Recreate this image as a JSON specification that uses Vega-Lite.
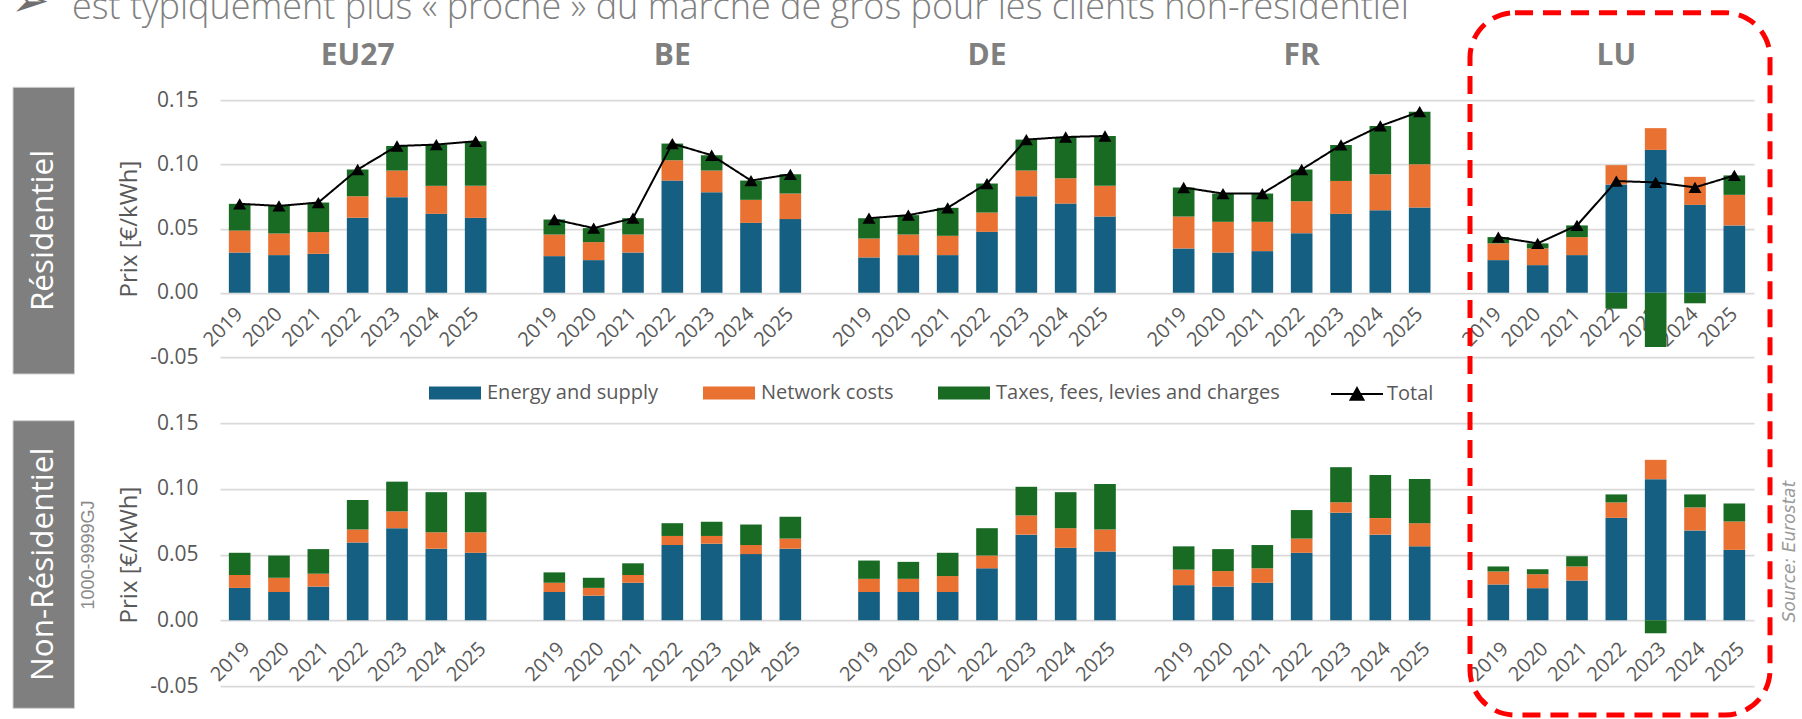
{
  "$schema": "https://vega.github.io/schema/vega-lite/v6.json",
  "autosize": {"type": "none"},
  "padding": {"left": 220, "top": 100, "right": 1582, "bottom": 619},
  "bounds": "flush",
  "spacing": 66,
  "background": "white",
  "config": {
    "view": {"stroke": null},
    "font": "Open Sans",
    "axis": {
      "labelFont": "Open Sans", "labelColor": "#595959", "labelFontSize": 20,
      "titleFont": "Open Sans", "titleColor": "#595959", "titleFontSize": 24, "titleFontWeight": "normal",
      "domain": false, "ticks": false, "gridColor": "#d9d9d9", "gridWidth": 1.75
    },
    "axisX": {"grid": false},
    "axisY": {"grid": true, "labelFontSize": 21}
  },
  "datasets": {
    "headers": [
      {"c": "EU27", "k": "EU27|2022"},
      {"c": "BE", "k": "BE|2022"},
      {"c": "DE", "k": "DE|2022"},
      {"c": "FR", "k": "FR|2022"},
      {"c": "LU", "k": "LU|2022"}
    ],
    "res": [
      {"c": "EU27", "k": "EU27|2019", "Energy and supply": 0.0313, "Network costs": 0.0171, "Taxes, fees, levies and charges": 0.0208, "Total": 0.0692},
      {"c": "EU27", "k": "EU27|2020", "Energy and supply": 0.0293, "Network costs": 0.0168, "Taxes, fees, levies and charges": 0.0215, "Total": 0.0676},
      {"c": "EU27", "k": "EU27|2021", "Energy and supply": 0.0303, "Network costs": 0.0169, "Taxes, fees, levies and charges": 0.0230, "Total": 0.0702},
      {"c": "EU27", "k": "EU27|2022", "Energy and supply": 0.0583, "Network costs": 0.0168, "Taxes, fees, levies and charges": 0.0208, "Total": 0.0959},
      {"c": "EU27", "k": "EU27|2023", "Energy and supply": 0.0744, "Network costs": 0.0207, "Taxes, fees, levies and charges": 0.0191, "Total": 0.1142},
      {"c": "EU27", "k": "EU27|2024", "Energy and supply": 0.0614, "Network costs": 0.0218, "Taxes, fees, levies and charges": 0.0321, "Total": 0.1153},
      {"c": "EU27", "k": "EU27|2025", "Energy and supply": 0.0583, "Network costs": 0.0249, "Taxes, fees, levies and charges": 0.0347, "Total": 0.1179},
      {"c": "BE", "k": "BE|2019", "Energy and supply": 0.0285, "Network costs": 0.0168, "Taxes, fees, levies and charges": 0.0117, "Total": 0.0570},
      {"c": "BE", "k": "BE|2020", "Energy and supply": 0.0254, "Network costs": 0.0140, "Taxes, fees, levies and charges": 0.0109, "Total": 0.0503},
      {"c": "BE", "k": "BE|2021", "Energy and supply": 0.0313, "Network costs": 0.0140, "Taxes, fees, levies and charges": 0.0127, "Total": 0.0580},
      {"c": "BE", "k": "BE|2022", "Energy and supply": 0.0873, "Network costs": 0.0158, "Taxes, fees, levies and charges": 0.0130, "Total": 0.1161},
      {"c": "BE", "k": "BE|2023", "Energy and supply": 0.0782, "Network costs": 0.0169, "Taxes, fees, levies and charges": 0.0119, "Total": 0.1070},
      {"c": "BE", "k": "BE|2024", "Energy and supply": 0.0544, "Network costs": 0.0179, "Taxes, fees, levies and charges": 0.0150, "Total": 0.0873},
      {"c": "BE", "k": "BE|2025", "Energy and supply": 0.0573, "Network costs": 0.0199, "Taxes, fees, levies and charges": 0.0150, "Total": 0.0922},
      {"c": "DE", "k": "DE|2019", "Energy and supply": 0.0275, "Network costs": 0.0147, "Taxes, fees, levies and charges": 0.0158, "Total": 0.0580},
      {"c": "DE", "k": "DE|2020", "Energy and supply": 0.0293, "Network costs": 0.0160, "Taxes, fees, levies and charges": 0.0151, "Total": 0.0604},
      {"c": "DE", "k": "DE|2021", "Energy and supply": 0.0293, "Network costs": 0.0150, "Taxes, fees, levies and charges": 0.0218, "Total": 0.0661},
      {"c": "DE", "k": "DE|2022", "Energy and supply": 0.0474, "Network costs": 0.0150, "Taxes, fees, levies and charges": 0.0226, "Total": 0.0850},
      {"c": "DE", "k": "DE|2023", "Energy and supply": 0.0751, "Network costs": 0.0200, "Taxes, fees, levies and charges": 0.0241, "Total": 0.1192},
      {"c": "DE", "k": "DE|2024", "Energy and supply": 0.0694, "Network costs": 0.0197, "Taxes, fees, levies and charges": 0.0321, "Total": 0.1212},
      {"c": "DE", "k": "DE|2025", "Energy and supply": 0.0593, "Network costs": 0.0239, "Taxes, fees, levies and charges": 0.0388, "Total": 0.1220},
      {"c": "FR", "k": "FR|2019", "Energy and supply": 0.0345, "Network costs": 0.0248, "Taxes, fees, levies and charges": 0.0226, "Total": 0.0819},
      {"c": "FR", "k": "FR|2020", "Energy and supply": 0.0313, "Network costs": 0.0239, "Taxes, fees, levies and charges": 0.0220, "Total": 0.0772},
      {"c": "FR", "k": "FR|2021", "Energy and supply": 0.0324, "Network costs": 0.0228, "Taxes, fees, levies and charges": 0.0220, "Total": 0.0772},
      {"c": "FR", "k": "FR|2022", "Energy and supply": 0.0464, "Network costs": 0.0248, "Taxes, fees, levies and charges": 0.0247, "Total": 0.0959},
      {"c": "FR", "k": "FR|2023", "Energy and supply": 0.0614, "Network costs": 0.0256, "Taxes, fees, levies and charges": 0.0280, "Total": 0.1150},
      {"c": "FR", "k": "FR|2024", "Energy and supply": 0.0642, "Network costs": 0.0280, "Taxes, fees, levies and charges": 0.0376, "Total": 0.1298},
      {"c": "FR", "k": "FR|2025", "Energy and supply": 0.0663, "Network costs": 0.0337, "Taxes, fees, levies and charges": 0.0409, "Total": 0.1409},
      {"c": "LU", "k": "LU|2019", "Energy and supply": 0.0254, "Network costs": 0.0130, "Taxes, fees, levies and charges": 0.0049, "Total": 0.0433},
      {"c": "LU", "k": "LU|2020", "Energy and supply": 0.0215, "Network costs": 0.0130, "Taxes, fees, levies and charges": 0.0039, "Total": 0.0384},
      {"c": "LU", "k": "LU|2021", "Energy and supply": 0.0293, "Network costs": 0.0140, "Taxes, fees, levies and charges": 0.0091, "Total": 0.0524},
      {"c": "LU", "k": "LU|2022", "Energy and supply": 0.0843, "Network costs": 0.0150, "Taxes, fees, levies and charges": -0.0124, "Total": 0.0869},
      {"c": "LU", "k": "LU|2023", "Energy and supply": 0.1112, "Network costs": 0.0169, "Taxes, fees, levies and charges": -0.0422, "Total": 0.0859},
      {"c": "LU", "k": "LU|2024", "Energy and supply": 0.0684, "Network costs": 0.0218, "Taxes, fees, levies and charges": -0.0082, "Total": 0.0820},
      {"c": "LU", "k": "LU|2025", "Energy and supply": 0.0524, "Network costs": 0.0238, "Taxes, fees, levies and charges": 0.0151, "Total": 0.0913}
    ],
    "nonres": [
      {"c": "EU27", "k": "EU27|2019", "Energy and supply": 0.0246, "Network costs": 0.0098, "Taxes, fees, levies and charges": 0.0169},
      {"c": "EU27", "k": "EU27|2020", "Energy and supply": 0.0215, "Network costs": 0.0108, "Taxes, fees, levies and charges": 0.0169},
      {"c": "EU27", "k": "EU27|2021", "Energy and supply": 0.0256, "Network costs": 0.0098, "Taxes, fees, levies and charges": 0.0187},
      {"c": "EU27", "k": "EU27|2022", "Energy and supply": 0.0592, "Network costs": 0.0098, "Taxes, fees, levies and charges": 0.0225},
      {"c": "EU27", "k": "EU27|2023", "Energy and supply": 0.0700, "Network costs": 0.0128, "Taxes, fees, levies and charges": 0.0226},
      {"c": "EU27", "k": "EU27|2024", "Energy and supply": 0.0544, "Network costs": 0.0125, "Taxes, fees, levies and charges": 0.0305},
      {"c": "EU27", "k": "EU27|2025", "Energy and supply": 0.0513, "Network costs": 0.0156, "Taxes, fees, levies and charges": 0.0305},
      {"c": "BE", "k": "BE|2019", "Energy and supply": 0.0215, "Network costs": 0.0070, "Taxes, fees, levies and charges": 0.0079},
      {"c": "BE", "k": "BE|2020", "Energy and supply": 0.0187, "Network costs": 0.0059, "Taxes, fees, levies and charges": 0.0077},
      {"c": "BE", "k": "BE|2021", "Energy and supply": 0.0285, "Network costs": 0.0059, "Taxes, fees, levies and charges": 0.0089},
      {"c": "BE", "k": "BE|2022", "Energy and supply": 0.0572, "Network costs": 0.0069, "Taxes, fees, levies and charges": 0.0097},
      {"c": "BE", "k": "BE|2023", "Energy and supply": 0.0582, "Network costs": 0.0059, "Taxes, fees, levies and charges": 0.0108},
      {"c": "BE", "k": "BE|2024", "Energy and supply": 0.0503, "Network costs": 0.0069, "Taxes, fees, levies and charges": 0.0156},
      {"c": "BE", "k": "BE|2025", "Energy and supply": 0.0544, "Network costs": 0.0077, "Taxes, fees, levies and charges": 0.0166},
      {"c": "DE", "k": "DE|2019", "Energy and supply": 0.0215, "Network costs": 0.0100, "Taxes, fees, levies and charges": 0.0139},
      {"c": "DE", "k": "DE|2020", "Energy and supply": 0.0215, "Network costs": 0.0100, "Taxes, fees, levies and charges": 0.0129},
      {"c": "DE", "k": "DE|2021", "Energy and supply": 0.0215, "Network costs": 0.0121, "Taxes, fees, levies and charges": 0.0177},
      {"c": "DE", "k": "DE|2022", "Energy and supply": 0.0395, "Network costs": 0.0097, "Taxes, fees, levies and charges": 0.0208},
      {"c": "DE", "k": "DE|2023", "Energy and supply": 0.0651, "Network costs": 0.0146, "Taxes, fees, levies and charges": 0.0218},
      {"c": "DE", "k": "DE|2024", "Energy and supply": 0.0551, "Network costs": 0.0149, "Taxes, fees, levies and charges": 0.0274},
      {"c": "DE", "k": "DE|2025", "Energy and supply": 0.0523, "Network costs": 0.0167, "Taxes, fees, levies and charges": 0.0346},
      {"c": "FR", "k": "FR|2019", "Energy and supply": 0.0267, "Network costs": 0.0118, "Taxes, fees, levies and charges": 0.0177},
      {"c": "FR", "k": "FR|2020", "Energy and supply": 0.0256, "Network costs": 0.0118, "Taxes, fees, levies and charges": 0.0167},
      {"c": "FR", "k": "FR|2021", "Energy and supply": 0.0285, "Network costs": 0.0110, "Taxes, fees, levies and charges": 0.0177},
      {"c": "FR", "k": "FR|2022", "Energy and supply": 0.0513, "Network costs": 0.0108, "Taxes, fees, levies and charges": 0.0217},
      {"c": "FR", "k": "FR|2023", "Energy and supply": 0.0818, "Network costs": 0.0079, "Taxes, fees, levies and charges": 0.0267},
      {"c": "FR", "k": "FR|2024", "Energy and supply": 0.0651, "Network costs": 0.0126, "Taxes, fees, levies and charges": 0.0328},
      {"c": "FR", "k": "FR|2025", "Energy and supply": 0.0562, "Network costs": 0.0176, "Taxes, fees, levies and charges": 0.0336},
      {"c": "LU", "k": "LU|2019", "Energy and supply": 0.0272, "Network costs": 0.0099, "Taxes, fees, levies and charges": 0.0038},
      {"c": "LU", "k": "LU|2020", "Energy and supply": 0.0244, "Network costs": 0.0106, "Taxes, fees, levies and charges": 0.0038},
      {"c": "LU", "k": "LU|2021", "Energy and supply": 0.0302, "Network costs": 0.0107, "Taxes, fees, levies and charges": 0.0078},
      {"c": "LU", "k": "LU|2022", "Energy and supply": 0.0779, "Network costs": 0.0117, "Taxes, fees, levies and charges": 0.0061},
      {"c": "LU", "k": "LU|2023", "Energy and supply": 0.1073, "Network costs": 0.0147, "Taxes, fees, levies and charges": -0.0099},
      {"c": "LU", "k": "LU|2024", "Energy and supply": 0.0683, "Network costs": 0.0175, "Taxes, fees, levies and charges": 0.0099},
      {"c": "LU", "k": "LU|2025", "Energy and supply": 0.0535, "Network costs": 0.0216, "Taxes, fees, levies and charges": 0.0137}
    ]
  },
  "vconcat": [
    {
      "width": 1534,
      "height": 257,
      "layer": [
        {
          "data": {"values": [{}]},
          "mark": {"type": "rect", "fill": "#7f7f7f", "stroke": "#d0d0d0", "strokeWidth": 1},
          "encoding": {"x": {"value": -207}, "x2": {"value": -145.5}, "y": {"value": -12.7}, "y2": {"value": 274}}
        },
        {
          "data": {"values": [{}]},
          "mark": {"type": "text", "text": "Résidentiel", "angle": 270, "align": "center", "baseline": "middle", "font": "Open Sans", "fontSize": 31.5, "fill": "white"},
          "encoding": {"x": {"value": -176.5}, "y": {"value": 130.5}}
        },
        {
          "data": {"values": [{}]},
          "mark": {"type": "text", "text": "➢", "align": "left", "baseline": "alphabetic", "font": "DejaVu Sans", "fontSize": 46, "fill": "#6f6f6f"},
          "encoding": {"x": {"value": -209}, "y": {"value": -84}}
        },
        {
          "data": {"values": [{}]},
          "mark": {"type": "text", "text": "est typiquement plus « proche » du marché de gros pour les clients non-résidentiel", "align": "left", "baseline": "alphabetic", "font": "Open Sans", "fontSize": 36, "fontWeight": 300, "fill": "#808080"},
          "encoding": {"x": {"value": -148}, "y": {"value": -81}}
        },
        {
          "data": {"name": "headers"},
          "mark": {"type": "text", "align": "center", "baseline": "middle", "font": "Open Sans", "fontSize": 30, "fontWeight": "bold", "fill": "#7f7f7f"},
          "encoding": {
            "x": {"field": "k", "type": "nominal"},
            "y": {"datum": 0.184, "type": "quantitative"},
            "text": {"field": "c"}
          }
        },
        {
          "data": {"name": "res"},
          "transform": [{"fold": ["Energy and supply", "Network costs", "Taxes, fees, levies and charges"], "as": ["component", "value"]}],
          "mark": {"type": "bar"},
          "encoding": {
            "x": {
              "field": "k", "type": "nominal", "title": null,
              "scale": {
                "domain": ["EU27|2019","EU27|2020","EU27|2021","EU27|2022","EU27|2023","EU27|2024","EU27|2025","gap1","BE|2019","BE|2020","BE|2021","BE|2022","BE|2023","BE|2024","BE|2025","gap2","DE|2019","DE|2020","DE|2021","DE|2022","DE|2023","DE|2024","DE|2025","gap3","FR|2019","FR|2020","FR|2021","FR|2022","FR|2023","FR|2024","FR|2025","gap4","LU|2019","LU|2020","LU|2021","LU|2022","LU|2023","LU|2024","LU|2025"],
                "paddingInner": 0.45, "paddingOuter": 0.225
              },
              "axis": {"labelExpr": "indexof(datum.value, '|') >= 0 ? slice(datum.value, indexof(datum.value, '|') + 1) : ''", "labelAngle": -45, "offset": -64.25, "labelPadding": 18, "labelOverlap": false, "labelBound": false}
            },
            "y": {
              "field": "value", "type": "quantitative", "stack": "zero", "title": "Prix [€/kWh]",
              "scale": {"domain": [-0.05, 0.15], "nice": false, "zero": false},
              "axis": {"values": [-0.05, 0, 0.05, 0.1, 0.15], "labelExpr": "replace(format(datum.value, '.2f'), '−', '-')", "labelPadding": 22, "titlePadding": 8}
            },
            "color": {
              "field": "component", "type": "nominal",
              "scale": {"domain": ["Energy and supply", "Network costs", "Taxes, fees, levies and charges"], "range": ["#156082", "#E97132", "#196B24"]},
              "legend": {"orient": "none", "legendX": 209, "legendY": 280, "direction": "horizontal", "title": null, "symbolType": "M-1,-0.5H3V0.5H-1Z", "symbolSize": 676, "symbolStrokeWidth": 0, "symbolOpacity": 1, "labelOffset": 32, "columnPadding": 44, "labelLimit": 400, "labelFont": "Open Sans", "labelFontSize": 20, "labelColor": "#595959"}
            },
            "order": {"field": "component", "sort": "ascending"}
          }
        },
        {
          "data": {"name": "res"},
          "mark": {"type": "line", "color": "black", "strokeWidth": 2},
          "encoding": {
            "x": {"field": "k", "type": "nominal"},
            "y": {"field": "Total", "type": "quantitative", "title": "Prix [€/kWh]"},
            "detail": {"field": "c"},
            "strokeDash": {
              "datum": "Total",
              "scale": {"domain": ["Total"], "range": [[1, 0]]},
              "legend": {"orient": "none", "legendX": 1110, "legendY": 280, "title": null, "symbolType": "M-1,0H3M0.5,0.45L1,-0.45L1.5,0.45Z", "symbolSize": 676, "symbolStrokeColor": "black", "symbolFillColor": "black", "symbolStrokeWidth": 2, "labelOffset": 29, "labelFont": "Open Sans", "labelFontSize": 20, "labelColor": "#595959",
                "encode": {"symbols": {"update": {"fill": {"value": "black"}, "stroke": {"value": "black"}}}}}
            }
          }
        },
        {
          "data": {"name": "res"},
          "mark": {"type": "point", "shape": "triangle-up", "filled": true, "size": 170, "color": "black", "opacity": 1},
          "encoding": {
            "x": {"field": "k", "type": "nominal"},
            "y": {"field": "Total", "type": "quantitative", "title": "Prix [€/kWh]"}
          }
        }
      ]
    },
    {
      "width": 1534,
      "height": 263,
      "layer": [
        {
          "data": {"values": [{}]},
          "mark": {"type": "rect", "fill": "#7f7f7f", "stroke": "#d0d0d0", "strokeWidth": 1},
          "encoding": {"x": {"value": -207}, "x2": {"value": -145.5}, "y": {"value": -2.3}, "y2": {"value": 285.3}}
        },
        {
          "data": {"values": [{}]},
          "mark": {"type": "text", "text": "Non-Résidentiel", "angle": 270, "align": "center", "baseline": "middle", "font": "Open Sans", "fontSize": 31.5, "fill": "white"},
          "encoding": {"x": {"value": -176.5}, "y": {"value": 141.3}}
        },
        {
          "data": {"values": [{}]},
          "mark": {"type": "text", "text": "1000-9999GJ", "angle": 270, "align": "center", "baseline": "middle", "font": "Liberation Sans", "fontSize": 18, "fill": "#8a8a8a"},
          "encoding": {"x": {"value": -131}, "y": {"value": 132}}
        },
        {
          "data": {"values": [{}]},
          "mark": {"type": "text", "text": "Source: Eurostat", "angle": 270, "align": "center", "baseline": "middle", "font": "DejaVu Sans", "fontStyle": "italic", "fontSize": 17, "fill": "#9a9a9a"},
          "encoding": {"x": {"value": 1570}, "y": {"value": 128.5}}
        },
        {
          "data": {"name": "nonres"},
          "transform": [{"fold": ["Energy and supply", "Network costs", "Taxes, fees, levies and charges"], "as": ["component", "value"]}],
          "mark": {"type": "bar"},
          "encoding": {
            "x": {
              "field": "k", "type": "nominal", "title": null,
              "scale": {
                "domain": ["EU27|2019","EU27|2020","EU27|2021","EU27|2022","EU27|2023","EU27|2024","EU27|2025","gap1","BE|2019","BE|2020","BE|2021","BE|2022","BE|2023","BE|2024","BE|2025","gap2","DE|2019","DE|2020","DE|2021","DE|2022","DE|2023","DE|2024","DE|2025","gap3","FR|2019","FR|2020","FR|2021","FR|2022","FR|2023","FR|2024","FR|2025","gap4","LU|2019","LU|2020","LU|2021","LU|2022","LU|2023","LU|2024","LU|2025"],
                "paddingInner": 0.45, "paddingOuter": 0.225
              },
              "axis": {"labelExpr": "indexof(datum.value, '|') >= 0 ? slice(datum.value, indexof(datum.value, '|') + 1) : ''", "labelAngle": -45, "offset": -65.75, "labelPadding": 18, "labelOverlap": false, "labelBound": false}
            },
            "y": {
              "field": "value", "type": "quantitative", "stack": "zero", "title": "Prix [€/kWh]",
              "scale": {"domain": [-0.05, 0.15], "nice": false, "zero": false},
              "axis": {"values": [-0.05, 0, 0.05, 0.1, 0.15], "labelExpr": "replace(format(datum.value, '.2f'), '−', '-')", "labelPadding": 22, "titlePadding": 8}
            },
            "color": {"field": "component", "type": "nominal"},
            "order": {"field": "component", "sort": "ascending"}
          }
        },
        {
          "data": {"values": [{}]},
          "mark": {"type": "rect", "fill": null, "fillOpacity": 0, "stroke": "#ff0000", "strokeWidth": 5, "strokeDash": [18, 10], "cornerRadius": 45},
          "encoding": {"x": {"value": 1250}, "x2": {"value": 1550}, "y": {"value": -410.3}, "y2": {"value": 292}}
        }
      ]
    }
  ]
}
